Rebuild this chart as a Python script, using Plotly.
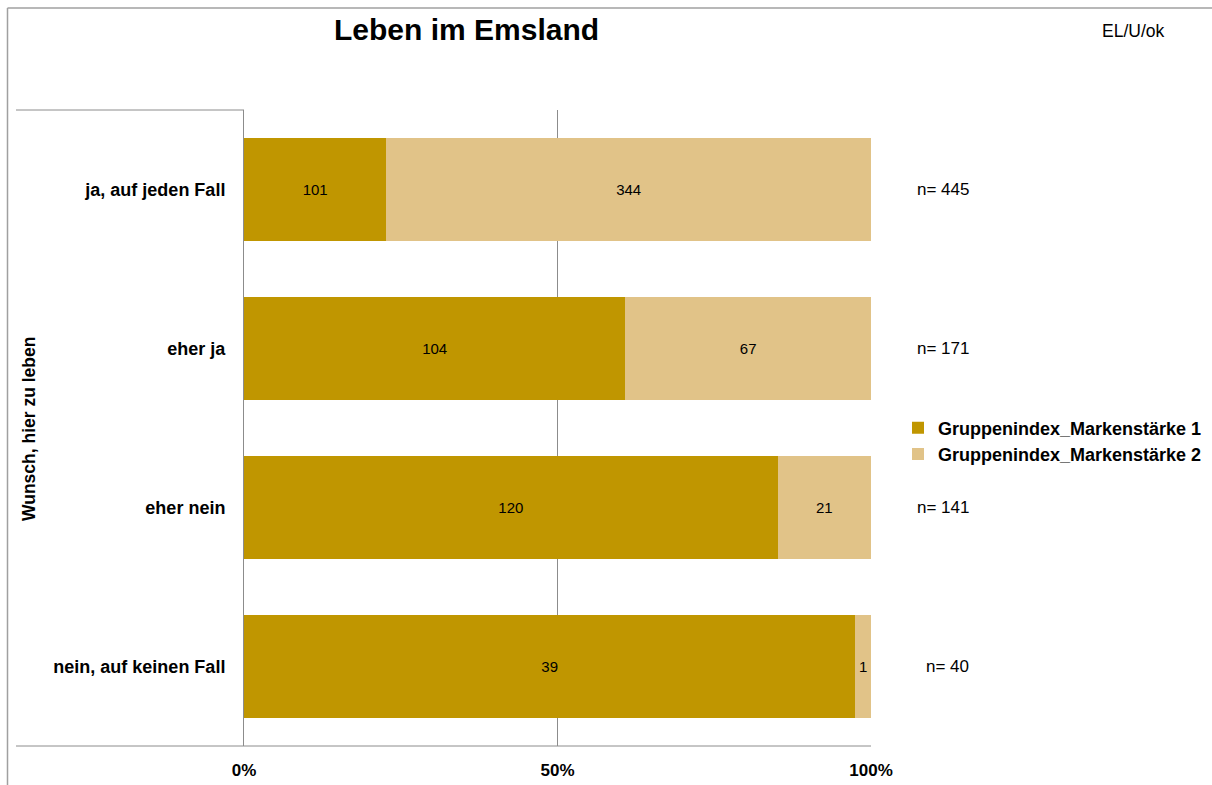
import plotly.graph_objects as go

categories = ["ja, auf jeden Fall", "eher ja", "eher nein", "nein, auf keinen Fall"]
group1 = [101, 104, 120, 39]
group2 = [344, 67, 21, 1]
series_names = ["Gruppenindex_Markenstärke 1", "Gruppenindex_Markenstärke 2"]
totals = [a + b for a, b in zip(group1, group2)]
x_tickvals = [0, 50, 100]
x_ticktext = ["0%", "50%", "100%"]

FONT = "Liberation Sans, Arial, sans-serif"
C1 = "#C09600"
C2 = "#E1C388"
LINE = "#8C8C8C"

fig = go.Figure()
for name, vals, col in [(series_names[0], group1, C1), (series_names[1], group2, C2)]:
    fig.add_trace(go.Bar(
        y=categories, x=vals, name=name, orientation="h",
        marker=dict(color=col, line=dict(width=0)),
        text=[str(v) for v in vals], textposition="inside",
        insidetextanchor="middle",
        textfont=dict(family=FONT, size=15, color="black"),
        width=0.642,
    ))

W, H = 1212, 785
L, R, T, B = 244, 871, 110, 746
def px(x):
    return (x - L) / (R - L)
def py(y):
    return (B - y) / (B - T)

annotations = [
    dict(text="Leben im Emsland", x=px(466), y=py(29), xref="paper", yref="paper",
         xanchor="center", yanchor="middle", showarrow=False,
         font=dict(family=FONT, size=30, color="black", weight="bold")),
    dict(text="EL/U/ok", x=px(1100), y=py(31), xref="paper", yref="paper",
         xanchor="left", yanchor="middle", showarrow=False,
         font=dict(family=FONT, size=17.5, color="black")),
    dict(text="Wunsch, hier zu leben", x=px(29), y=py(429), xref="paper", yref="paper",
         xanchor="center", yanchor="middle", showarrow=False, textangle=-90,
         font=dict(family=FONT, size=17.5, color="black", weight="bold")),
]
for cat, n in zip(categories, totals):
    annotations.append(dict(text=f"n= {n}", x=px(971), y=cat, xref="paper", yref="y",
                            xanchor="right", yanchor="middle", showarrow=False,
                            font=dict(family=FONT, size=17, color="black")))

shapes = [
    dict(type="line", xref="paper", yref="paper", x0=px(16), x1=0, y0=1, y1=1,
         line=dict(color=LINE, width=1)),
    dict(type="line", xref="paper", yref="paper", x0=px(16), x1=1, y0=0, y1=0,
         line=dict(color=LINE, width=1)),
    dict(type="line", xref="paper", yref="paper", x0=px(7.5), x1=px(7.5), y0=py(8), y1=py(800),
         line=dict(color="#A0A0A0", width=1.5)),
    dict(type="line", xref="paper", yref="paper", x0=px(7.5), x1=px(1230), y0=py(8), y1=py(8),
         line=dict(color="#A0A0A0", width=1.5)),
]

fig.update_layout(
    width=W, height=H,
    margin=dict(l=L, r=W - R, t=T, b=H - B, autoexpand=False),
    barmode="stack", barnorm="percent",
    paper_bgcolor="white", plot_bgcolor="white",
    font=dict(family=FONT, color="black"),
    uniformtext=dict(minsize=15, mode="show"),
    showlegend=True,
    legend=dict(x=px(898), y=py(441), xanchor="left", yanchor="middle",
                font=dict(family=FONT, size=18, color="black", weight="bold"),
                itemwidth=30, traceorder="normal", bgcolor="rgba(0,0,0,0)"),
    xaxis=dict(range=[0, 100], tickvals=x_tickvals, ticktext=x_ticktext,
               showgrid=True, gridcolor=LINE, gridwidth=1, zeroline=False,
               showline=False, ticks="outside", ticklen=9, tickcolor="rgba(0,0,0,0)",
               tickfont=dict(family=FONT, size=17, color="black", weight="bold"),
               fixedrange=True),
    yaxis=dict(categoryorder="array", categoryarray=categories, autorange="reversed",
               showline=True, linecolor=LINE, linewidth=1, showgrid=False,
               ticks="outside", ticklen=14, tickcolor="rgba(0,0,0,0)",
               tickfont=dict(family=FONT, size=18, color="black", weight="bold")),
    annotations=annotations,
    shapes=shapes,
)

fig.write_html("out.html")
